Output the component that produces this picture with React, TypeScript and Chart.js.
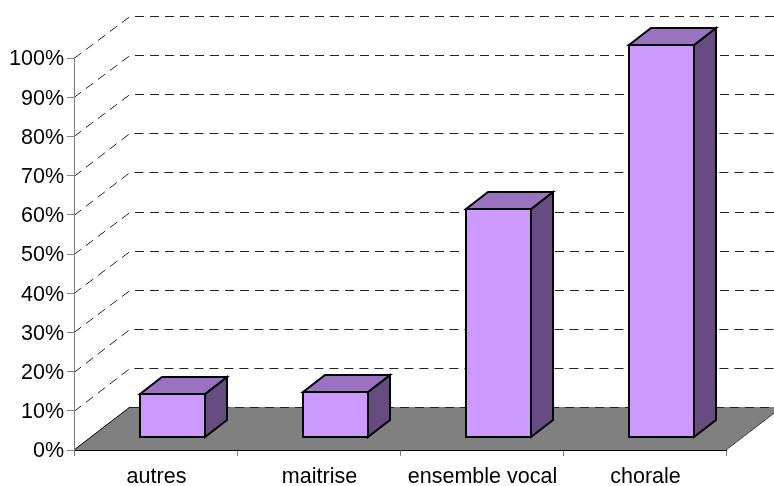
import React, { useEffect, useRef } from "react";
import { Chart, registerables } from "chart.js";

Chart.register(...registerables);

const categories = ["autres", "maitrise", "ensemble vocal", "chorale"];
const shares = [10.9, 11.4, 58.2, 100];

const FRONT = "#CC99FF";
const TOP = "#9973BF";
const SIDE = "#664C80";
const FLOOR = "#808080";
const WALL_DX = 56;
const BAR_DX = 16.8;
const BAR_DY = 13;
const DEPTH_DX = 22;
const DEPTH_DY = 17;

const box3d = {
  id: "box3d",
  beforeDraw(chart: any) {
    const { ctx, chartArea, scales } = chart;
    const { left, right, top, bottom } = chartArea;
    const wallDy = (y: number) => 42 + (y - top) / (bottom - top);
    const backY = (y: number) => Math.round(y - wallDy(y)) + 0.5;
    ctx.save();
    ctx.fillStyle = FLOOR;
    ctx.beginPath();
    ctx.moveTo(left, bottom);
    ctx.lineTo(left + WALL_DX, bottom - 43);
    ctx.lineTo(right + WALL_DX, bottom - 43);
    ctx.lineTo(right, bottom);
    ctx.closePath();
    ctx.fill();
    ctx.lineWidth = 1;
    ctx.strokeStyle = "#000000";
    ctx.beginPath();
    ctx.moveTo(left, bottom);
    ctx.lineTo(left + WALL_DX, bottom - 43);
    ctx.stroke();
    ctx.strokeStyle = "#404040";
    ctx.beginPath();
    ctx.moveTo(right, bottom);
    ctx.lineTo(right + WALL_DX, bottom - 43);
    ctx.stroke();
    ctx.setLineDash([9, 6]);
    ctx.strokeStyle = "#222222";
    for (const tick of scales.y.ticks) {
      const raw = scales.y.getPixelForValue(tick.value);
      const y = Math.round(raw) + 0.5;
      ctx.beginPath();
      if (tick.value !== 0) {
        ctx.moveTo(left, y);
        ctx.lineTo(left + WALL_DX, backY(raw));
      } else {
        ctx.moveTo(left + WALL_DX, backY(raw));
      }
      ctx.lineTo(right + WALL_DX, backY(raw));
      ctx.stroke();
    }
    ctx.restore();
  },
  afterDatasetDraw(chart: any, args: any) {
    const { ctx } = chart;
    const meta = chart.getDatasetMeta(args.index);
    ctx.save();
    ctx.lineJoin = "miter";
    ctx.lineWidth = 2;
    ctx.strokeStyle = "#000000";
    for (const el of meta.data) {
      const l = Math.round(el.x - el.width / 2 + BAR_DX);
      const r = Math.round(el.x + el.width / 2 + BAR_DX);
      const t = Math.round(el.y - BAR_DY);
      const b = Math.round(el.base - BAR_DY);
      ctx.fillStyle = FRONT;
      ctx.fillRect(l, t, r - l, b - t);
      ctx.fillStyle = SIDE;
      ctx.beginPath();
      ctx.moveTo(r, t);
      ctx.lineTo(r + DEPTH_DX, t - DEPTH_DY);
      ctx.lineTo(r + DEPTH_DX, b - DEPTH_DY);
      ctx.lineTo(r, b);
      ctx.closePath();
      ctx.fill();
      ctx.stroke();
      ctx.fillStyle = TOP;
      ctx.beginPath();
      ctx.moveTo(l, t);
      ctx.lineTo(l + DEPTH_DX, t - DEPTH_DY);
      ctx.lineTo(r + DEPTH_DX, t - DEPTH_DY);
      ctx.lineTo(r, t);
      ctx.closePath();
      ctx.fill();
      ctx.stroke();
      ctx.strokeRect(l, t, r - l, b - t);
    }
    ctx.restore();
  },
};

export default function App() {
  const ref = useRef<HTMLCanvasElement>(null);
  useEffect(() => {
    const font = { family: "'Liberation Sans', Arial, sans-serif", size: 21.5 };
    const chart = new Chart(ref.current as HTMLCanvasElement, {
      type: "bar",
      data: {
        labels: categories,
        datasets: [
          {
            data: shares,
            backgroundColor: "rgba(0,0,0,0)",
            borderWidth: 0,
            barPercentage: 0.4,
            categoryPercentage: 1,
            clip: false,
          } as any,
        ],
      },
      options: {
        animation: false,
        responsive: false,
        layout: { padding: { top: 58, right: 48, left: 0, bottom: 0 } },
        plugins: { legend: { display: false }, tooltip: { enabled: false }, title: { display: false } },
        scales: {
          x: {
            grid: { offset: true, drawOnChartArea: false, drawTicks: true, tickLength: 6, color: "#808080" },
            border: { display: true, color: "#000000", width: 1 },
            ticks: { color: "#000000", font, padding: 8, maxRotation: 0, autoSkip: false, labelOffset: 1 },
            afterFit: (s: any) => { s.height = 36; },
          },
          y: {
            min: 0,
            max: 100,
            grid: { drawOnChartArea: false, drawTicks: true, tickLength: 7, color: "#808080" },
            border: { display: true, color: "#808080", width: 1 },
            ticks: {
              stepSize: 10,
              color: "#000000",
              font,
              padding: 3,
              labelOffset: 1.5,
              callback: (v: any) => `${v}%`,
            },
            afterFit: (s: any) => { s.width = 74; },
          },
        },
      },
      plugins: [box3d],
    } as any);
    return () => chart.destroy();
  }, []);
  return (
    <canvas
      ref={ref}
      width={774}
      height={486}
      style={{ position: "absolute", left: 0, top: 0, width: 774, height: 486, display: "block" }}
    />
  );
}
